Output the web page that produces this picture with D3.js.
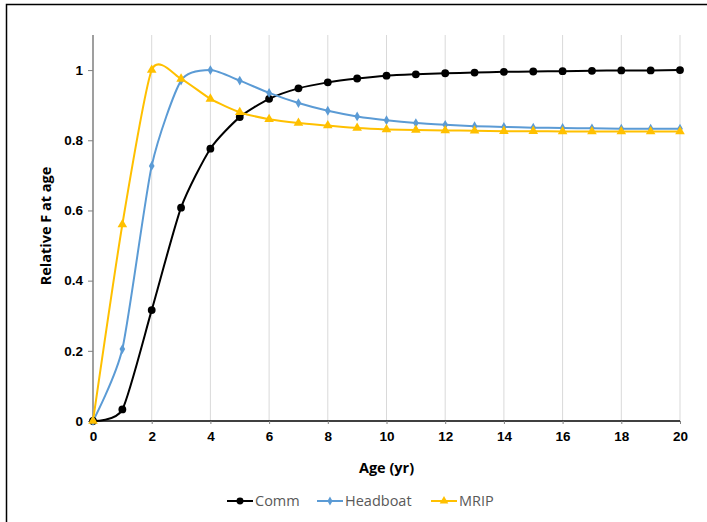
<!DOCTYPE html>
<html>
<head>
<meta charset="utf-8">
<script src="https://cdn.jsdelivr.net/npm/d3@7"></script>
<style>
  body { margin: 0; background: #fff; }
  svg { display: block; font-family: "Open Sans", Lato, sans-serif; }
</style>
</head>
<body>
<svg width="707" height="522"></svg>
<script>
const ages = d3.range(0, 21);
const comm = [0, 0.033, 0.316, 0.608, 0.776, 0.866, 0.918, 0.948, 0.965, 0.976, 0.984, 0.988, 0.991, 0.993, 0.995, 0.996, 0.997, 0.998, 0.999, 0.999, 1.0];
const headboat = [0, 0.205, 0.727, 0.97, 1.0, 0.97, 0.935, 0.906, 0.884, 0.868, 0.857, 0.849, 0.844, 0.840, 0.838, 0.836, 0.835, 0.834, 0.833, 0.833, 0.833];
const mrip = [0, 0.56, 1.0, 0.975, 0.918, 0.88, 0.86, 0.849, 0.842, 0.835, 0.831, 0.829, 0.828, 0.827, 0.826, 0.826, 0.825, 0.825, 0.825, 0.825, 0.825];
const xTicks = d3.range(0, 21, 2);
const yTicks = [0, 0.2, 0.4, 0.6, 0.8, 1];

const series = [
    { name: 'Comm', values: comm, color: '#000000', symbol: d3.symbolCircle, size: 48 },
    { name: 'Headboat', values: headboat, color: '#5b9bd5', symbol: d3.symbolDiamond, size: 28 },
    { name: 'MRIP', values: mrip, color: '#ffc000', symbol: d3.symbolTriangle, size: 40 },
];

const svg = d3.select('svg');
const margin = { top: 35, right: 27, bottom: 101, left: 93 };
const width = +svg.attr('width') - margin.left - margin.right;
const height = +svg.attr('height') - margin.top - margin.bottom;

// chart border (only top and left visible in the picture)
svg.append('path')
    .attr('d', 'M6.5,522 V4.5 H707')
    .attr('fill', 'none')
    .attr('stroke', '#000')
    .attr('stroke-width', 1.5);

const x = d3.scaleLinear().domain([0, 20]).range([0, width]);
const y = d3.scaleLinear().domain([0, 1.1]).range([height, 0]);

const g = svg.append('g').attr('transform', `translate(${margin.left},${margin.top})`);

// vertical grid
g.append('g')
    .selectAll('line')
    .data(xTicks.filter(d => d > 0))
    .join('line')
    .attr('x1', d => x(d)).attr('x2', d => x(d))
    .attr('y1', 0).attr('y2', height)
    .attr('stroke', '#d9d9d9')
    .attr('stroke-width', 1);

// y axis
const yAxis = g.append('g')
    .call(d3.axisLeft(y).tickValues(yTicks).tickSize(5).tickPadding(5).tickFormat(d3.format('~g')));
yAxis.select('.domain').attr('stroke', '#7f7f7f').attr('stroke-width', 1.5).attr('d', `M0,0V${height}`);
yAxis.selectAll('.tick line').attr('stroke', '#7f7f7f');
yAxis.selectAll('.tick text')
    .attr('fill', '#000').attr('font-size', 13.5).attr('font-weight', 'bold');

// x axis
const xAxis = g.append('g')
    .attr('transform', `translate(0,${height})`)
    .call(d3.axisBottom(x).tickValues(xTicks).tickSize(3).tickPadding(7));
xAxis.select('.domain').attr('stroke', '#000').attr('stroke-width', 1.5).attr('d', `M0,0H${width}`);
xAxis.selectAll('.tick line').attr('stroke', '#7f7f7f');
xAxis.selectAll('.tick text')
    .attr('fill', '#000').attr('font-size', 13.5).attr('font-weight', 'bold');

// axis titles
svg.append('text')
    .attr('x', margin.left + width / 2)
    .attr('y', 473)
    .attr('text-anchor', 'middle')
    .attr('font-size', 14.5)
    .attr('font-weight', 'bold')
    .text('Age (yr)');

svg.append('text')
    .attr('transform', `translate(51,${margin.top + height / 2 - 2}) rotate(-90)`)
    .attr('text-anchor', 'middle')
    .attr('font-size', 14.5)
    .attr('font-weight', 'bold')
    .text('Relative F at age');

// lines
const line = d3.line()
    .x((d, i) => x(ages[i]))
    .y(d => y(d))
    .curve(d3.curveCardinal.tension(0.35));

series.forEach((s) => {
    g.append('path')
        .datum(s.values)
        .attr('fill', 'none')
        .attr('stroke', s.color)
        .attr('stroke-width', 2)
        .attr('d', line);
});

series.forEach((s) => {
    g.append('g')
        .selectAll('path')
        .data(s.values)
        .join('path')
        .attr('transform', (d, i) => `translate(${x(ages[i])},${y(d)})`)
        .attr('d', d3.symbol().type(s.symbol).size(s.size))
        .attr('fill', s.color);
});

// legend
const legendX = [227, 317, 431];
const legend = svg.append('g').attr('transform', 'translate(0,501)');
series.forEach((s, i) => {
    const lg = legend.append('g').attr('transform', `translate(${legendX[i]},0)`);
    lg.append('line')
        .attr('x1', 0).attr('x2', 26)
        .attr('stroke', s.color).attr('stroke-width', 2);
    lg.append('path')
        .attr('transform', 'translate(13,0)')
        .attr('d', d3.symbol().type(s.symbol).size(s.size * 0.8))
        .attr('fill', s.color);
    lg.append('text')
        .attr('x', 28)
        .attr('dy', '0.35em')
        .attr('font-size', 14.5)
        .attr('fill', '#595959')
        .text(s.name);
});
</script>
</body>
</html>
